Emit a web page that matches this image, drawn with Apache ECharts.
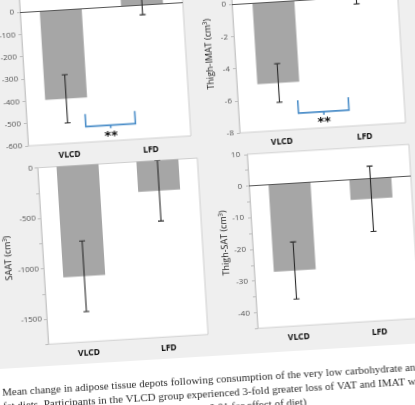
<!DOCTYPE html>
<html lang="en">
<head>
<meta charset="utf-8" />
<title>Adipose tissue change</title>
<script src="https://cdn.jsdelivr.net/npm/echarts@6.0.0/dist/echarts.min.js"></script>
<style>
html, body { margin: 0; padding: 0; width: 415px; height: 405px; overflow: hidden; background: #fff; }
/* the figure is a slightly tilted photo, so the whole chart is turned a little */
#main { position: absolute; left: -30px; top: -30px; width: 475px; height: 465px;
        transform: rotate(-3.5deg); transform-origin: 50% 50%; }
</style>
</head>
<body>
<div id="main"></div>
<script type="text/javascript">
var categories = ['VLCD', 'LFD'];

// mean change and error (+/-) per diet group
var vatMean = [-400, 30];
var vatErr = [108, 75];
var imatMean = [-5.05, 0.8];
var imatErr = [1.2, 1.25];
var saatMean = [-1100, -300];
var saatErr = [350, 300];
var tsatMean = [-27.5, -6.4];
var tsatErr = [9, 10.3];

// significance bracket: bottom, top of sides, "**" level (axis units)
var vatBracket = [-530, -473, -572];
var imatBracket = [-7.0, -6.2, -7.55];

var captionLines = [
    'Mean change in adipose tissue depots following consumption of the very low carbohydrate and low',
    'fat diets. Participants in the VLCD group experienced 3-fold greater loss of VAT and IMAT when',
    'compared to the LFD group. (** indicates {i|P} < 0.01 for effect of diet)'
];

var O = 30; // offset of the oversized canvas
var chart = echarts.init(document.getElementById('main'));

var grids = [
    {left: O + 32, top: O - 21.3, width: 163, height: 156.3},
    {left: O + 244, top: O - 29.1, width: 166, height: 164.1},
    {left: O + 40, top: O + 157.5, width: 160, height: 176.75},
    {left: O + 250, top: O + 156.8, width: 162, height: 174.35}
];
grids.forEach(function (g) {
    g.show = true;
    g.backgroundColor = '#fff';
    g.borderColor = '#cfcfcf';
    g.borderWidth = 1;
});

function xAxis(i, margin) {
    return {
        type: 'category', gridIndex: i, data: categories,
        axisLine: {show: false, onZero: false},
        axisTick: {show: false},
        axisLabel: {margin: margin, color: '#111', fontSize: 8.5, fontWeight: 'bold', fontFamily: 'Noto Sans'}
    };
}

function yAxis(i, min, max, interval, step, name, gap, margin) {
    return {
        type: 'value', gridIndex: i, min: min, max: max, interval: interval,
        name: name, nameLocation: 'middle', nameGap: gap,
        nameTextStyle: {color: '#222', fontSize: 9, fontFamily: 'Open Sans'},
        axisLine: {show: true, lineStyle: {color: '#c8c8c8'}},
        axisTick: {show: true, length: 3, lineStyle: {color: '#bdbdbd'}},
        splitLine: {show: false},
        axisLabel: {
            margin: margin, color: '#555', fontSize: 8, fontFamily: 'Open Sans',
            formatter: function (v) { return Math.abs(v % step) < 1e-9 ? String(v) : ''; }
        }
    };
}

function barSeries(i, mean, zero) {
    var s = {
        type: 'bar', xAxisIndex: i, yAxisIndex: i, data: mean, barWidth: 42,
        itemStyle: {color: '#a6a6a6'}, z: 2
    };
    if (zero) {
        s.markLine = {
            silent: true, symbol: ['none', 'none'], label: {show: false},
            lineStyle: {color: '#555', width: 1, type: 'solid'},
            data: [{yAxis: 0}]
        };
    }
    return s;
}

function renderErr(params, api) {
    var lo = api.coord([api.value(0), api.value(1)]);
    var hi = api.coord([api.value(0), api.value(2)]);
    var x = lo[0];
    var st = {stroke: '#2a2a2a', lineWidth: 1.1};
    return {
        type: 'group', children: [
            {type: 'line', shape: {x1: x, y1: lo[1], x2: x, y2: hi[1]}, style: st},
            {type: 'line', shape: {x1: x - 3, y1: lo[1], x2: x + 3, y2: lo[1]}, style: st},
            {type: 'line', shape: {x1: x - 3, y1: hi[1], x2: x + 3, y2: hi[1]}, style: st}
        ]
    };
}

function errSeries(i, mean, err) {
    return {
        type: 'custom', xAxisIndex: i, yAxisIndex: i, z: 5, clip: true,
        renderItem: renderErr,
        data: mean.map(function (m, k) { return [k, m - err[k], m + err[k]]; })
    };
}

function renderBracket(params, api) {
    var base = api.coord([0, api.value(1)]);
    var band = api.size([1, 0])[0];
    var x1 = base[0] + band * 0.22, x2 = base[0] + band * 0.83;
    var yb = base[1];
    var yt = api.coord([0, api.value(2)])[1];
    var ys = api.coord([0, api.value(3)])[1];
    var xm = (x1 + x2) / 2;
    var st = {stroke: '#4d8fc9', lineWidth: 1.6, fill: null};
    return {
        type: 'group', children: [
            {type: 'polyline', shape: {points: [[x1, yt], [x1, yb], [x2, yb], [x2, yt]]}, style: st},
            {type: 'line', shape: {x1: xm, y1: yb, x2: xm, y2: yb + 3}, style: st},
            {type: 'text', x: xm, y: ys + 2, style: {
                text: '**', fill: '#111', font: 'bold 13px "DejaVu Sans"',
                align: 'center', verticalAlign: 'middle'}}
        ]
    };
}

function bracketSeries(i, b) {
    return {
        type: 'custom', xAxisIndex: i, yAxisIndex: i, z: 6,
        renderItem: renderBracket,
        data: [[0, b[0], b[1], b[2]]]
    };
}

var captionGraphics = captionLines.map(function (line, k) {
    return {
        type: 'text', z: 10, x: O - 9, y: O + 380 + k * 14,
        style: {
            text: line, fill: '#2e2e2e', font: '11px "Liberation Serif"',
            verticalAlign: 'middle', align: 'left',
            rich: {i: {fontStyle: 'italic', fontFamily: 'Liberation Serif', fontSize: 11, fill: '#2e2e2e'}}
        }
    };
});

var option = {
    animation: false,
    backgroundColor: '#fff',
    graphic: [
        {type: 'rect', z: -10, shape: {x: 0, y: 0, width: 475, height: O + 356}, style: {fill: '#efefef'}}
    ].concat(captionGraphics),
    grid: grids,
    xAxis: [xAxis(0, 7), xAxis(1, 7), xAxis(2, 7), xAxis(3, 7)],
    yAxis: [
        yAxis(0, -600, 100, 100, 100, '', 20, 6),
        yAxis(1, -8, 2, 2, 2, 'Thigh-IMAT (cm³)', 21, 6),
        yAxis(2, -1750, 0, 250, 500, 'SAAT (cm³)', 29, 5),
        yAxis(3, -45, 10, 5, 10, 'Thigh-SAT (cm³)', 20, 7)
    ],
    series: [
        barSeries(0, vatMean, true),
        errSeries(0, vatMean, vatErr),
        bracketSeries(0, vatBracket),
        barSeries(1, imatMean, true),
        errSeries(1, imatMean, imatErr),
        bracketSeries(1, imatBracket),
        barSeries(2, saatMean, false),
        errSeries(2, saatMean, saatErr),
        barSeries(3, tsatMean, true),
        errSeries(3, tsatMean, tsatErr)
    ]
};
chart.setOption(option);
</script>
</body>
</html>
